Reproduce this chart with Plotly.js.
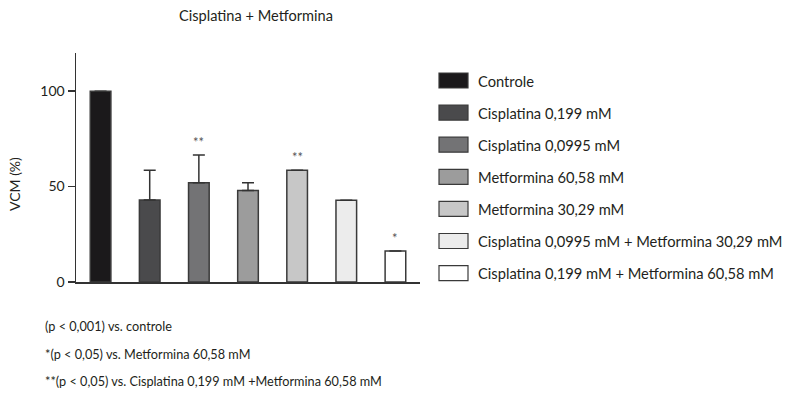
<!DOCTYPE html>
<html>
<head>
<meta charset="utf-8">
<script src="https://cdn.plot.ly/plotly-3.0.1.min.js"></script>
<style>html,body{margin:0;padding:0;background:#fff;}</style>
</head>
<body>
<div id="chart" style="width:800px;height:401px;"></div>
<script>
// ---- data ----
const groups = ['Controle', 'Cisplatina 0,199 mM', 'Cisplatina 0,0995 mM', 'Metformina 60,58 mM',
  'Metformina 30,29 mM', 'Cisplatina 0,0995 mM + Metformina 30,29 mM', 'Cisplatina 0,199 mM + Metformina 60,58 mM'];
const vcm = [100, 43, 52, 48, 58.6, 42.8, 16.2];
const sem = [0, 15.6, 14.5, 4, 0, 0, 0];
const significance = ['', '', '**', '', '**', '', '*'];
const barColors = ['#1b191b', '#4a4a4c', '#737375', '#9c9c9c', '#c7c7c7', '#ececec', '#ffffff'];
const footnotes = ['(p < 0,001) vs. controle', '*(p < 0,05) vs. Metformina 60,58 mM',
  '**(p < 0,05) vs. Cisplatina 0,199 mM +Metformina 60,58 mM'];
const chartTitle = 'Cisplatina + Metformina';
const yTitle = 'VCM (%)';
const yTicks = [0, 50, 100];

// ---- layout helpers ----
const W = 800, H = 401;
const M = {l: 76, r: 380, t: 53, b: 119};
const pw = W - M.l - M.r, ph = H - M.t - M.b;
const px = x => (x - M.l) / pw;
const py = y => (H - M.b - y) / ph;
const font = 'Lato, "Open Sans", sans-serif';
const txt = '#231f20';

const trace = {
  type: 'bar',
  x: groups,
  y: vcm,
  width: 0.42,
  marker: {color: barColors, line: {color: '#3a3a3a', width: 1.5}},
  error_y: {type: 'data', array: sem, symmetric: false, arrayminus: sem.map(() => 0),
    color: '#333', thickness: 1.5, width: 6, visible: true},
  hoverinfo: 'x+y',
  showlegend: false
};

const annotations = [];
const shapes = [];
groups.forEach((g, i) => {
  if (significance[i]) {
    annotations.push({x: g, y: vcm[i] + sem[i], xref: 'x', yref: 'y', text: significance[i],
      showarrow: false, yanchor: 'bottom', yshift: 3, font: {family: font, size: 13, color: '#555'}});
  }
  const cy = 80.5 + 32.1 * i;
  shapes.push({type: 'rect', xref: 'paper', yref: 'paper', x0: px(439), x1: px(468),
    y0: py(cy + 7.5), y1: py(cy - 7.5), fillcolor: barColors[i], line: {color: '#3a3a3a', width: 1.2}});
  annotations.push({xref: 'paper', yref: 'paper', x: px(476), y: py(cy), xanchor: 'left', yanchor: 'middle',
    text: g, showarrow: false, font: {family: font, size: 14.7, color: txt}});
});
footnotes.forEach((f, i) => {
  annotations.push({xref: 'paper', yref: 'paper', x: px(43), y: py(326 + 27.7 * i), xanchor: 'left', yanchor: 'middle',
    text: f, showarrow: false, font: {family: font, size: 12.7, color: txt}});
});
annotations.push({xref: 'paper', yref: 'paper', x: px(256), y: py(16), xanchor: 'center', yanchor: 'middle',
  text: chartTitle, showarrow: false, font: {family: font, size: 14.6, color: txt}});
annotations.push({xref: 'paper', yref: 'paper', x: px(14), y: py(184), xanchor: 'center', yanchor: 'middle',
  text: yTitle, textangle: -90, showarrow: false, font: {family: font, size: 14, color: txt}});

const layout = {
  width: W, height: H,
  margin: M,
  paper_bgcolor: '#fff', plot_bgcolor: '#fff',
  font: {family: font, size: 14, color: txt},
  xaxis: {type: 'category', range: [-0.5, 6.5], showticklabels: false, ticks: '', showline: true,
    linecolor: '#333', linewidth: 1.5, showgrid: false, zeroline: false, fixedrange: true},
  yaxis: {range: [0, 120], tickvals: yTicks, ticks: 'outside', ticklen: 7, tickwidth: 1.5, tickcolor: '#333',
    showline: true, linecolor: '#333', linewidth: 1.5, showgrid: false, zeroline: false,
    tickfont: {family: font, size: 14, color: txt}, fixedrange: true},
  shapes: shapes,
  annotations: annotations,
  showlegend: false
};

Plotly.newPlot('chart', [trace], layout, {displayModeBar: false, staticPlot: true});
</script>
</body>
</html>
